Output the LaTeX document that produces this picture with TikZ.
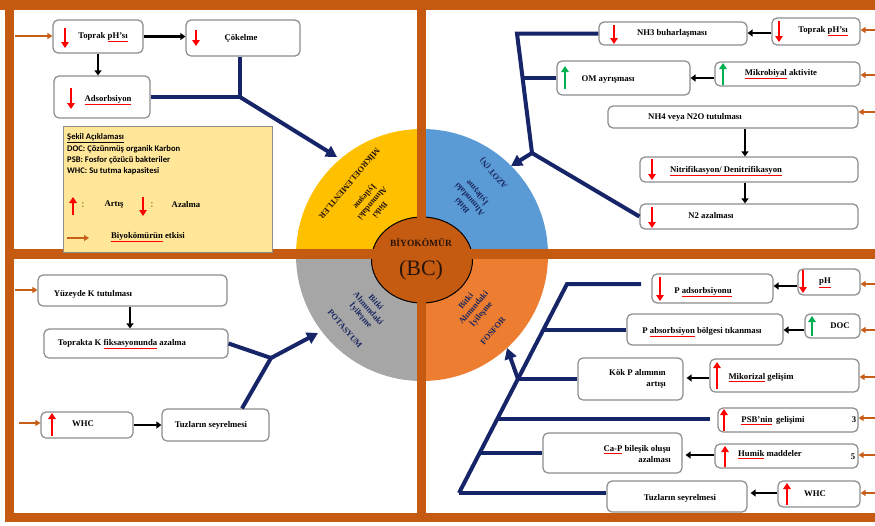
\documentclass[tikz,border=0pt]{standalone}
\usepackage{fontspec}
\setmainfont{Liberation Serif}
\newfontfamily\legfont{Carlito}
\usetikzlibrary{arrows.meta,fit,shapes.geometric}
\definecolor{frameC}{RGB}{197,90,17}
\definecolor{qY}{RGB}{255,192,0}
\definecolor{qB}{RGB}{91,155,213}
\definecolor{qG}{RGB}{166,166,166}
\definecolor{qO}{RGB}{237,125,49}
\definecolor{navC}{RGB}{22,36,104}
\definecolor{boxgray}{RGB}{140,140,140}
\definecolor{legfill}{RGB}{255,230,153}
\definecolor{greenC}{RGB}{0,176,80}
\definecolor{oraC}{RGB}{200,95,25}
\definecolor{colonC}{RGB}{170,165,60}
\definecolor{qtxt}{RGB}{25,38,95}
\definecolor{ctext}{RGB}{40,20,10}
\newcommand\sq[1]{{\color{red}\underline{{\color{black}#1}}}}
\tikzset{
  box/.style={draw=boxgray, line width=1.2pt, rounded corners=5pt, fill=white, inner sep=0pt},
  btxt/.style={font=\fontsize{8.7}{11.5}\selectfont\bfseries, inner sep=0pt, text=black},
  ltxt/.style={font=\legfont\fontsize{8.6}{10}\selectfont\bfseries, inner sep=0pt, anchor=west},
  qt/.style={font=\fontsize{8.4}{10}\selectfont\bfseries, align=center, inner sep=0pt},
  redup/.style={draw=red, line width=2.2pt, -{Triangle[length=6pt,width=7.5pt]}},
  grnup/.style={draw=greenC, line width=2.2pt, -{Triangle[length=6pt,width=7.5pt]}},
  blk/.style={draw=black, line width=2.2pt, -{Triangle[length=5pt,width=7pt]}},
  ora/.style={draw=oraC, line width=1.8pt, -{Triangle[length=5pt,width=6pt]}},
  nav/.style={draw=navC, line width=4pt},
  navarr/.style={nav, -{Triangle[length=11pt,width=12pt]}},
}
\begin{document}
\begin{tikzpicture}[x=1pt,y=-1pt]
\useasboundingbox (0,0) rectangle (875,525);
\fill[white] (0,0) rectangle (875,525);

% ---- central disc ----
\begin{scope}\clip (0,0) rectangle (422,255); \fill[qY] (422,255) circle[radius=126]; \end{scope}
\begin{scope}\clip (422,0) rectangle (875,255); \fill[qB] (422,255) circle[radius=126]; \end{scope}
\begin{scope}\clip (0,255) rectangle (422,525); \fill[qG] (422,255) circle[radius=126]; \end{scope}
\begin{scope}\clip (422,255) rectangle (875,525); \fill[qO] (422,255) circle[radius=126]; \end{scope}
\node[ellipse, draw=black, line width=1pt, fill=frameC, minimum width=101pt, minimum height=86pt, inner sep=0pt] (bc) at (422,260) {};

% ---- cross and frame ----
\fill[frameC] (417,0) rectangle (426,522);
\fill[frameC] (5,249) rectangle (875,259);
\fill[frameC] (0,0) rectangle (875,10);
\fill[frameC] (5,0) rectangle (14,522);
\fill[frameC] (5,513) rectangle (875,522);

\node[font=\fontsize{9.5}{11}\selectfont\bfseries, text=ctext, inner sep=0pt] (bcname) at (421,242) {BİYOKÖMÜR};
\node[font=\fontsize{22}{24}\selectfont, text=ctext, inner sep=0pt] (bcabbr) at (421,270) {(BC)};

% quadrant labels
\node[qt, text=ctext, rotate=230] (yb) at (372,203) {Bitki\\Alımındaki\\İyileşme};
\node[qt, text=ctext, rotate=230] (ym) at (350,184) {MİKROELEMENTLER};
\node[qt, text=qtxt, rotate=131] (bb) at (470,199) {Bitki\\Alımındaki\\İyileşme};
\node[qt, text=qtxt, rotate=131] (bm) at (494,173) {AZOT (N)};
\node[qt, text=qtxt, rotate=-49] (gb) at (368,309) {Bitki\\Alımındaki\\İyileşme};
\node[qt, text=qtxt, rotate=-49] (gm) at (345,329) {POTASYUM};
\node[qt, text=qtxt, rotate=50] (ob) at (474,308) {Bitki\\Alımındaki\\İyileşme};
\node[qt, text=qtxt, rotate=50] (om2) at (493,331) {FOSFOR};

% ================= TOP LEFT =================
\node[box, fit={(53,20) (143,53)}] (tpH1) {};
\node[btxt] (tpH1t) at (103,37) {Toprak \sq{pH'sı}};
\draw[redup] (65,28) -- (65,48);
\node[box, fit={(186,20) (300,56)}] (cok) {};
\node[btxt] (cokt) at (241,38) {Çökelme};
\draw[redup] (196,30) -- (196,46);
\node[box, fit={(54,76) (150,118)}] (ads) {};
\node[btxt] (adst) at (108,100) {\sq{Adsorbsiyon}};
\draw[redup] (71,88) -- (71,109);

\draw[blk] (tpH1.east) -- (tpH1.east -| cok.west);
\draw[blk] (tpH1.south) -- (tpH1.south |- ads.north);
\coordinate (L1) at (15,36);
\draw[ora] (L1) -- (tpH1.west |- L1);

\coordinate (j1) at (240,97);
\coordinate (tY) at (337,157);
\draw[nav] (cok.south -| j1) -- (j1);
\draw[nav] (ads.east |- j1) -- (j1);
\draw[navarr] (j1) -- (tY);

% legend
\node[draw=boxgray, line width=0.8pt, fill=legfill, inner sep=0pt, fit={(63,126) (272,252)}] (legend) {};
\node[ltxt] (lg1) at (67,138) {\underline{Şekil Açıklaması}};
\node[ltxt] (lg2) at (67,149) {DOC: Çözünmüş organik Karbon};
\node[ltxt] (lg3) at (67,160) {PSB: Fosfor çözücü bakteriler};
\node[ltxt] (lg4) at (67,171) {WHC: Su tutma kapasitesi};
\draw[redup] (73,215) -- (73,197);
\node[font=\bfseries\fontsize{11}{12}\selectfont, text=colonC, inner sep=0pt] (c1) at (83,205) {:};
\node[btxt] (lart) at (114,205) {Artış};
\draw[redup] (143,197) -- (143,216);
\node[font=\bfseries\fontsize{11}{12}\selectfont, text=colonC, inner sep=0pt] (c2) at (152,205) {:};
\node[btxt] (lazl) at (186,205) {Azalma};
\coordinate (lgA) at (67,238);
\coordinate (lgB) at (89,238);
\draw[ora] (lgA) -- (lgB);
\node[btxt] (lbio) at (148,237) {\sq{Biyokömürün} etkisi};

% ================= TOP RIGHT =================
\node[box, fit={(599,22) (747,45)}] (nh3) {};
\node[btxt] (nh3t) at (672,33) {NH3 buharlaşması};
\draw[redup] (614,25) -- (614,44);
\node[box, fit={(772,18) (860,45)}] (tpH2) {};
\node[btxt] (tpH2t) at (823,31) {Toprak \sq{pH'sı}};
\draw[redup] (779,21) -- (779,42);
\node[box, fit={(557,61) (690,95)}] (om) {};
\node[btxt] (omt) at (608,80) {OM ayrışması};
\draw[grnup] (565,89) -- (565,66);
\node[box, fit={(715,62) (860,86)}] (mik) {};
\node[btxt] (mikt) at (781,74) {\sq{Mikrobiyal} aktivite};
\draw[grnup] (723,85) -- (723,63);
\node[box, fit={(608,106) (858,128)}] (nh4) {};
\node[btxt] (nh4t) at (695,117) {NH4 veya N2O tutulması};
\node[box, fit={(640,157) (858,182)}] (nit) {};
\node[btxt] (nitt) at (726,171) {\sq{Nitrifikasyon/ Denitrifikasyon}};
\draw[redup] (652,159) -- (652,180);
\node[box, fit={(640,204) (858,229)}] (n2) {};
\node[btxt] (n2t) at (711,216) {N2 azalması};
\draw[redup] (652,207) -- (652,228);

\draw[blk] (tpH2.west |- 0,33) -- (nh3.east |- 0,33);
\draw[blk] (mik.west |- 0,78) -- (om.east |- 0,78);
\draw[blk] (nh4.south -| 745,0) -- (nit.north -| 745,0);
\draw[blk] (nit.south -| 745,0) -- (n2.north -| 745,0);
\coordinate (R1) at (875,30);  \draw[ora] (R1) -- (tpH2.east |- R1);
\coordinate (R2) at (875,75);  \draw[ora] (R2) -- (mik.east |- R2);
\coordinate (R3) at (875,112); \draw[ora] (R3) -- (nh4.east |- R3);

\coordinate (t1) at (517,33.5);
\coordinate (t2) at (522.6,78);
\coordinate (j2) at (532,153);
\coordinate (tB) at (511,166);
\draw[nav] (nh3.west) -- (t1) -- (j2);
\draw[nav] (om.west) -- (t2);
\draw[nav] (n2.west) -- (j2);
\draw[navarr] (j2) -- (tB);

% ================= BOTTOM LEFT =================
\node[box, fit={(38,275) (227,306)}] (yuz) {};
\node[btxt] (yuzt) at (93,294) {Yüzeyde K tutulması};
\node[box, fit={(44,329) (228,358)}] (topk) {};
\node[btxt] (topkt) at (122,344) {Toprakta K \sq{fiksasyonunda} azalma};
\node[box, fit={(41,412) (133,438)}] (whc1) {};
\node[btxt] (whc1t) at (83,424) {WHC};
\draw[redup] (52,436) -- (52,413);
\node[box, fit={(162,409) (269,441)}] (tuz1) {};
\node[btxt] (tuz1t) at (211,425) {Tuzların seyrelmesi};

\draw[blk] (yuz.south -| 130,0) -- (topk.north -| 130,0);
\draw[blk] (whc1.east |- 0,425) -- (tuz1.west |- 0,425);
\coordinate (L2) at (15,290);  \draw[ora] (L2) -- (yuz.west |- L2);
\coordinate (L3) at (19,423);  \draw[ora] (L3) -- (whc1.west |- L3);

\coordinate (j3) at (271,358);
\coordinate (tG) at (318,333);
\coordinate (q1) at (242,409);
\draw[nav] (topk.east) -- (j3);
\draw[nav] (tuz1.north -| q1) -- (j3);
\draw[navarr] (j3) -- (tG);

% ================= BOTTOM RIGHT =================
\node[box, fit={(652,274) (773,303)}] (pads) {};
\node[btxt] (padst) at (703,292) {P \sq{adsorbsiyonu}};
\draw[redup] (660,277) -- (660,301);
\node[box, fit={(798,269) (860,295)}] (ph) {};
\node[btxt] (pht) at (825,283) {\sq{pH}};
\draw[redup] (803,270) -- (803,293);
\node[box, fit={(627,314) (783,345)}] (pabs) {};
\node[btxt] (pabst) at (702,332) {P \sq{absorbsiyon} bölgesi tıkanması};
\node[box, fit={(805,314) (860,338)}] (doc) {};
\node[btxt] (doct) at (840,326) {DOC};
\draw[grnup] (812,336) -- (812,316);
\node[box, fit={(578,358) (683,400)}] (kok) {};
\node[btxt, align=right, anchor=east] (kokt) at (666,379) {Kök P alımının\\artışı};
\node[box, fit={(710,359) (859,392)}] (mkr) {};
\node[btxt] (mkrt) at (761,378) {\sq{Mikorizal} gelişim};
\draw[redup] (717,389) -- (717,362);
\node[box, fit={(718,408) (858,432)}] (psb) {};
\node[btxt] (psbt) at (773,421) {\sq{PSB'nin}\, gelişimi};
\node[btxt] (psb3) at (854,420) {3};
\draw[redup] (724,431) -- (724,409);
\node[box, fit={(543,433) (682,473)}] (cap) {};
\node[btxt, align=right, anchor=east] (capt) at (671,454) {\sq{Ca-P} bileşik oluşu\\azalması};
\node[box, fit={(715,444) (858,468)}] (hum) {};
\node[btxt] (humt) at (770,455) {\sq{Humik} maddeler};
\node[btxt] (hum5) at (853,457) {5};
\draw[redup] (725,467) -- (725,446);
\node[box, fit={(607,481) (747,512)}] (tuz2) {};
\node[btxt] (tuz2t) at (680,498) {Tuzların seyrelmesi};
\node[box, fit={(778,481) (860,507)}] (whc2) {};
\node[btxt] (whc2t) at (815,494) {WHC};
\draw[redup] (787,505) -- (787,483);

\draw[blk] (ph.west |- 0,286) -- (pads.east |- 0,286);
\draw[blk] (doc.west |- 0,330) -- (pabs.east |- 0,330);
\draw[blk] (mkr.west |- 0,378) -- ([xshift=3pt]kok.east |- 0,378);
\draw[blk] (hum.west |- 0,455) -- ([xshift=3pt]cap.east |- 0,455);
\draw[blk] (whc2.west |- 0,493) -- ([xshift=3pt]tuz2.east |- 0,493);
\coordinate (R4) at (875,284); \draw[ora] (R4) -- (ph.east |- R4);
\coordinate (R5) at (875,330); \draw[ora] (R5) -- (doc.east |- R5);
\coordinate (R6) at (875,377); \draw[ora] (R6) -- (mkr.east |- R6);
\coordinate (R7) at (875,418); \draw[ora] (R7) -- (psb.east |- R7);
\coordinate (R8) at (875,455); \draw[ora] (R8) -- (hum.east |- R8);
\coordinate (R9) at (875,493); \draw[ora] (R9) -- (whc2.east |- R9);

\coordinate (b0) at (459,493);
\coordinate (b1) at (567,284);
\coordinate (pend) at (641,284);
\coordinate (bp) at (543.5,329.5);
\coordinate (bk) at (518,379);
\coordinate (bs) at (497.5,419);
\coordinate (psbend) at (710,419);
\coordinate (bc2) at (479.7,453);
\coordinate (tO) at (507,348);
\draw[nav] (b0) -- (b1) -- (pend);
\draw[nav] (pabs.west) -- (bp);
\draw[nav] (kok.west) -- (bk);
\draw[nav] (psbend) -- (bs);
\draw[nav] (cap.west) -- (bc2);
\draw[nav] (tuz2.west |- b0) -- (b0);
\draw[navarr] (bk) -- (tO);
\end{tikzpicture}
\end{document}
